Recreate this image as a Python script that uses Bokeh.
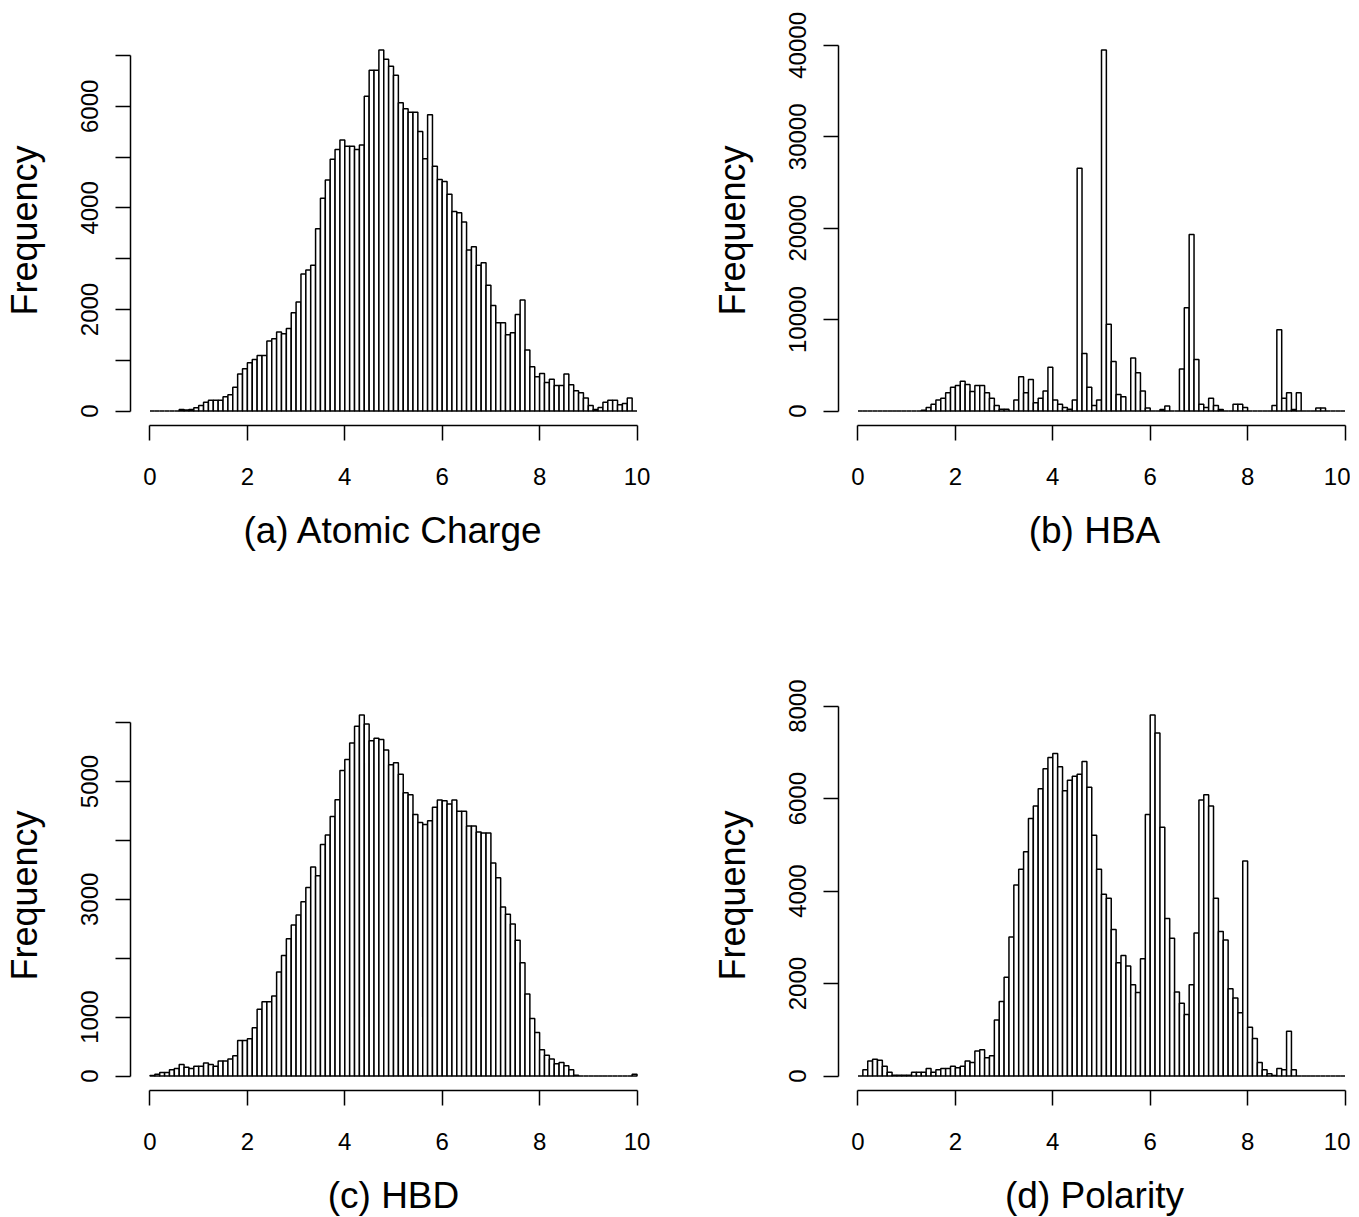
from bokeh.plotting import figure
from bokeh.layouts import column, row
from bokeh.models import Range1d, FixedTicker
from bokeh.embed import file_html
from bokeh.resources import INLINE

# histogram bins: 100 bins of width 0.1 from 0 to 10
BIN_EDGES = [round(i * 0.1, 1) for i in range(101)]

atomic_charge = [
    0, 0, 0, 0, 0, 0, 30, 20, 30, 65,
    110, 175, 215, 215, 215, 280, 320, 470, 730, 835,
    950, 1015, 1095, 1095, 1380, 1425, 1555, 1520, 1625, 1935,
    2145, 2700, 2775, 2870, 3590, 4190, 4550, 4960, 5150, 5335,
    5215, 5215, 5150, 5240, 6200, 6710, 6710, 7110, 6925, 6790,
    6610, 6070, 5950, 5885, 5885, 5505, 4970, 5835, 4820, 4560,
    4520, 4270, 3930, 3905, 3720, 3170, 3235, 2870, 2920, 2475,
    2080, 1740, 1740, 1500, 1540, 1900, 2185, 1200, 870, 675,
    740, 560, 625, 505, 505, 730, 520, 400, 360, 255,
    110, 30, 70, 175, 215, 215, 125, 150, 255, 0,
]

hba = [
    0, 0, 0, 0, 0, 0, 0, 0, 0, 0,
    0, 0, 0, 100, 400, 750, 1200, 1400, 2000, 2600,
    2800, 3250, 2900, 2150, 2800, 2800, 2000, 1400, 600, 200,
    200, 0, 1200, 3750, 2000, 3450, 900, 1400, 2200, 4800,
    1200, 750, 400, 200, 1200, 26550, 6300, 2600, 600, 1200,
    39500, 9500, 5430, 1800, 1570, 0, 5800, 4200, 2200, 330,
    0, 0, 180, 550, 0, 0, 4600, 11300, 19300, 5650,
    750, 400, 1400, 600, 180, 0, 0, 750, 750, 400,
    0, 0, 0, 0, 0, 600, 8900, 1400, 2000, 180,
    2000, 0, 0, 0, 330, 330, 0, 0, 0, 0,
]

hbd = [
    10, 30, 60, 60, 105, 130, 195, 150, 130, 165,
    165, 220, 195, 165, 255, 255, 290, 345, 605, 605,
    635, 820, 1135, 1260, 1260, 1360, 1765, 2045, 2330, 2565,
    2735, 2960, 3200, 3550, 3400, 3930, 4090, 4405, 4690, 5185,
    5375, 5655, 5940, 6130, 5975, 5690, 5735, 5715, 5535, 5285,
    5320, 5125, 4810, 4775, 4440, 4305, 4270, 4335, 4565, 4685,
    4675, 4620, 4685, 4495, 4495, 4245, 4245, 4145, 4125, 4125,
    3615, 3365, 2870, 2745, 2580, 2305, 1925, 1395, 975, 740,
    445, 355, 290, 210, 230, 175, 105, 15, 0, 0,
    0, 0, 0, 0, 0, 0, 0, 0, 0, 30,
]

polarity = [
    0, 135, 325, 365, 340, 210, 80, 20, 20, 20,
    20, 80, 80, 80, 165, 80, 135, 165, 165, 210,
    180, 210, 325, 295, 540, 570, 395, 440, 1215, 1615,
    2135, 3010, 4130, 4475, 4850, 5570, 5840, 6215, 6645, 6890,
    6975, 6690, 6170, 6400, 6485, 6530, 6805, 6245, 5210, 4475,
    3930, 3845, 3170, 2450, 2610, 2380, 1975, 1805, 2535, 5655,
    7810, 7420, 5380, 3410, 2980, 1820, 1575, 1330, 1975, 3095,
    5970, 6085, 5840, 3845, 3125, 2940, 1890, 1690, 1370, 4650,
    1055, 810, 295, 135, 50, 10, 165, 135, 970, 135,
    0, 0, 0, 0, 0, 0, 0, 0, 0, 0,
]

titles = ["(a) Atomic Charge", "(b) HBA", "(c) HBD", "(d) Polarity"]
x_ticks = [0, 2, 4, 6, 8, 10]

a_yticks = [0, 1000, 2000, 3000, 4000, 5000, 6000, 7000]
a_ylabels = ["0", "", "2000", "", "4000", "", "6000", ""]
b_yticks = [0, 10000, 20000, 30000, 40000]
b_ylabels = ["0", "10000", "20000", "30000", "40000"]
c_yticks = [0, 1000, 2000, 3000, 4000, 5000, 6000]
c_ylabels = ["0", "1000", "", "3000", "", "5000", ""]
d_yticks = [0, 2000, 4000, 6000, 8000]
d_ylabels = ["0", "2000", "4000", "6000", "8000"]

FONT = "Liberation Sans"
PX_PER_UNIT = 526 / 10.8


def panel(counts, title, yticks, ylabels, frame_w, b_left, b_right, b_top, b_bottom):
    m = max(counts)
    x_end = -0.4 + frame_w / PX_PER_UNIT
    p = figure(
        frame_width=frame_w, frame_height=390,
        min_border_left=b_left, min_border_right=b_right,
        min_border_top=b_top, min_border_bottom=b_bottom,
        x_range=Range1d(-0.4, x_end), y_range=Range1d(-0.04 * m, 1.04 * m),
        output_backend="svg", toolbar_location=None,
    )
    p.quad(left=BIN_EDGES[:-1], right=BIN_EDGES[1:], bottom=0, top=counts,
           fill_color="white", line_color="black", line_width=1.5)
    p.grid.visible = False
    p.outline_line_color = None

    xa = p.xaxis[0]
    xa.ticker = FixedTicker(ticks=x_ticks)
    xa.bounds = (0, 10)
    xa.major_label_overrides = {t: str(t) for t in x_ticks}
    xa.axis_label = title
    ya = p.yaxis[0]
    ya.ticker = FixedTicker(ticks=yticks)
    ya.bounds = (yticks[0], yticks[-1])
    ya.major_label_overrides = {t: l for t, l in zip(yticks, ylabels)}
    ya.major_label_orientation = "vertical"
    ya.axis_label = "Frequency"

    for ax in (xa, ya):
        ax.axis_line_width = 1.5
        ax.axis_line_color = "black"
        ax.major_tick_line_width = 1.5
        ax.major_tick_line_color = "black"
        ax.major_tick_in = 0
        ax.major_tick_out = 15
        ax.minor_tick_line_color = None
        ax.major_label_text_font = FONT
        ax.major_label_text_font_size = "24px"
        ax.major_label_text_color = "black"
        ax.axis_label_text_font = FONT
        ax.axis_label_text_font_style = "normal"
        ax.axis_label_text_color = "black"
    xa.axis_label_text_font_size = "37px"
    ya.axis_label_text_font_size = "36px"
    xa.major_label_standoff = 27
    xa.axis_label_standoff = 22
    ya.major_label_standoff = 17
    ya.axis_label_standoff = 34
    return p


pa = panel(atomic_charge, titles[0], a_yticks, a_ylabels, 526, 125, 52, 35, 155)
pb = panel(hba, titles[1], b_yticks, b_ylabels, 512, 119, 0, 35, 155)
pc = panel(hbd, titles[2], c_yticks, c_ylabels, 526, 125, 52, 120, 111)
pd = panel(polarity, titles[3], d_yticks, d_ylabels, 512, 119, 0, 120, 111)

layout = column(row(pa, pb), row(pc, pd))
open("out.html", "w").write(file_html(layout, INLINE))
